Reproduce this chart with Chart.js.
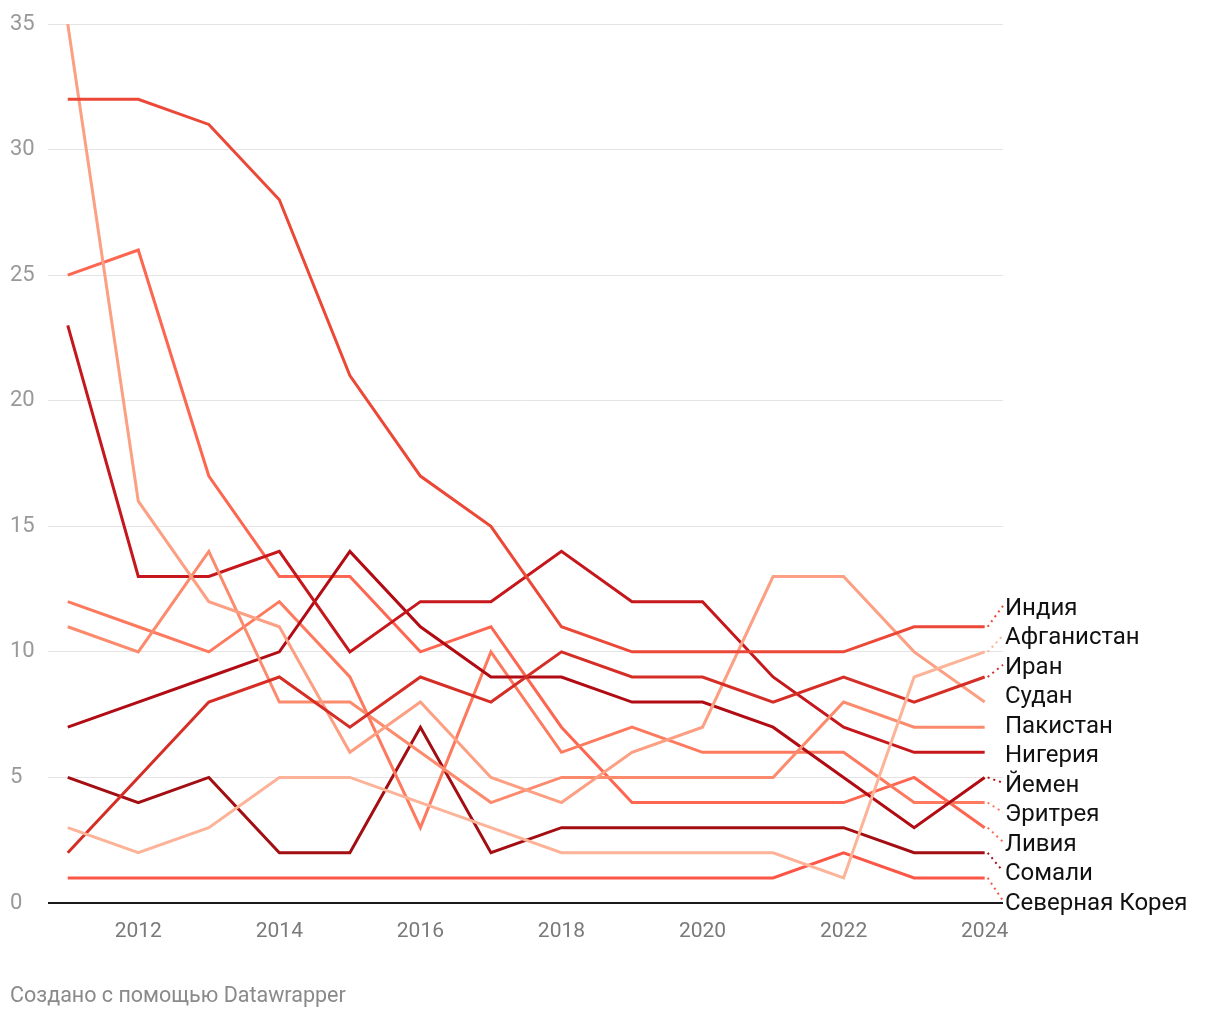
<!DOCTYPE html>
<html>
<head>
<meta charset="utf-8">
<script src="https://cdn.jsdelivr.net/npm/chart.js@4.4.1/dist/chart.umd.min.js"></script>
<style>
  html, body { margin: 0; padding: 0; background: #fff; }
  #wrap { width: 1220px; height: 1020px; }
</style>
</head>
<body>
<div id="wrap"><canvas id="chart" width="1220" height="1020"></canvas></div>
<script>
// years on the x axis
var years = [2011, 2012, 2013, 2014, 2015, 2016, 2017, 2018, 2019, 2020, 2021, 2022, 2023, 2024];
var xTicks = [2012, 2014, 2016, 2018, 2020, 2022, 2024];
var yTicks = [0, 5, 10, 15, 20, 25, 30, 35];

// rank of each country per year
var india = [32, 32, 31, 28, 21, 17, 15, 11, 10, 10, 10, 10, 11, 11];
var afghanistan = [3, 2, 3, 5, 5, 4, 3, 2, 2, 2, 2, 1, 9, 10];
var iran = [2, 5, 8, 9, 7, 9, 8, 10, 9, 9, 8, 9, 8, 9];
var sudan = [35, 16, 12, 11, 6, 8, 5, 4, 6, 7, 13, 13, 10, 8];
var pakistan = [11, 10, 14, 8, 8, 6, 4, 5, 5, 5, 5, 8, 7, 7];
var nigeria = [23, 13, 13, 14, 10, 12, 12, 14, 12, 12, 9, 7, 6, 6];
var yemen = [7, 8, 9, 10, 14, 11, 9, 9, 8, 8, 7, 5, 3, 5];
var eritrea = [12, 11, 10, 12, 9, 3, 10, 6, 7, 6, 6, 6, 4, 4];
var libya = [25, 26, 17, 13, 13, 10, 11, 7, 4, 4, 4, 4, 5, 3];
var somalia = [5, 4, 5, 2, 2, 7, 2, 3, 3, 3, 3, 3, 2, 2];
var northKorea = [1, 1, 1, 1, 1, 1, 1, 1, 1, 1, 1, 2, 1, 1];

var countries = ["Индия", "Афганистан", "Иран", "Судан", "Пакистан", "Нигерия",
  "Йемен", "Эритрея", "Ливия", "Сомали", "Северная Корея"];
var series = [india, afghanistan, iran, sudan, pakistan, nigeria,
  yemen, eritrea, libya, somalia, northKorea];
var colors = ["#ec4837", "#fdb398", "#d52e26", "#fc9f82", "#fc8b6d", "#c5171c",
  "#b10c14", "#fd7a5f", "#fd6650", "#a30e13", "#fb5646"];

var FONT = "Roboto, 'Noto Sans', sans-serif";

// build the datasets from the arrays above
var datasets = series.map(function (vals, i) {
  return {
    label: countries[i],
    data: vals.map(function (v, j) { return { x: years[j], y: v }; }),
    borderColor: colors[i],
    backgroundColor: colors[i],
    borderWidth: 3,
    pointRadius: 0,
    tension: 0,
    fill: false,
  };
});

// labels at the end of each line, pushed apart so they do not overlap
var endLabels = {
  id: "endLabels",
  afterDatasetsDraw: function (chart) {
    var ctx = chart.ctx;
    var items = chart.data.datasets.map(function (ds, i) {
      var pts = chart.getDatasetMeta(i).data;
      var p = pts[pts.length - 1];
      return { x: p.x, y: p.y, ly: p.y + 4, text: ds.label, color: ds.borderColor };
    });
    var sorted = items.slice().sort(function (a, b) { return a.y - b.y; });
    var gap = 29.5;
    for (var it = 0; it < 300; it++) {
      for (var k = 0; k < sorted.length - 1; k++) {
        var d = sorted[k + 1].ly - sorted[k].ly;
        if (d < gap) {
          var push = (gap - d) / 2;
          sorted[k].ly -= push;
          sorted[k + 1].ly += push;
        }
      }
    }
    var lx = chart.chartArea.right + 2;
    ctx.save();
    items.forEach(function (o) {
      if (Math.abs(o.ly - o.y) > 5) {
        ctx.beginPath();
        ctx.setLineDash([2, 4]);
        ctx.lineWidth = 2;
        ctx.strokeStyle = o.color;
        ctx.moveTo(o.x + 3, o.y);
        ctx.lineTo(lx - 2, o.ly - 3);
        ctx.stroke();
      }
      ctx.setLineDash([]);
      ctx.fillStyle = "#111111";
      ctx.font = "24px " + FONT;
      ctx.textAlign = "left";
      ctx.textBaseline = "middle";
      ctx.fillText(o.text, lx, o.ly);
    });
    // footer note
    ctx.fillStyle = "#8a8a8a";
    ctx.font = "21.5px " + FONT;
    ctx.textBaseline = "middle";
    ctx.fillText("Создано с помощью Datawrapper", 10, 997);
    ctx.restore();
  },
};

var ctx = document.getElementById("chart").getContext("2d");
var chart = new Chart(ctx, {
  type: "line",
  data: { datasets: datasets },
  plugins: [endLabels],
  options: {
    responsive: false,
    animation: false,
    devicePixelRatio: 1,
    layout: { padding: { left: 10, right: 217, top: 24, bottom: 67 } },
    plugins: {
      legend: { display: false },
      tooltip: { enabled: false },
    },
    scales: {
      x: {
        type: "linear",
        min: 2010.72,
        max: 2024.26,
        afterBuildTicks: function (scale) {
          scale.ticks = xTicks.map(function (v) { return { value: v }; });
        },
        afterFit: function (scale) { scale.height = 50; },
        grid: { display: false, drawTicks: false },
        border: { display: false },
        ticks: {
          color: "#7a7a7a",
          font: { family: FONT, size: 21 },
          padding: 16,
          maxRotation: 0,
          callback: function (v) { return String(v); },
        },
      },
      y: {
        min: 0,
        max: 35,
        afterBuildTicks: function (scale) {
          scale.ticks = yTicks.map(function (v) { return { value: v }; });
        },
        afterFit: function (scale) { scale.width = 38; },
        grid: {
          drawTicks: false,
          color: function (c) { return c.tick && c.tick.value === 0 ? "#1a1a1a" : "#e4e4e4"; },
          lineWidth: function (c) { return c.tick && c.tick.value === 0 ? 2 : 1; },
        },
        border: { display: false },
        ticks: {
          color: "#999999",
          font: { family: FONT, size: 22 },
          crossAlign: "far",
          padding: 0,
        },
      },
    },
  },
});
</script>
</body>
</html>
